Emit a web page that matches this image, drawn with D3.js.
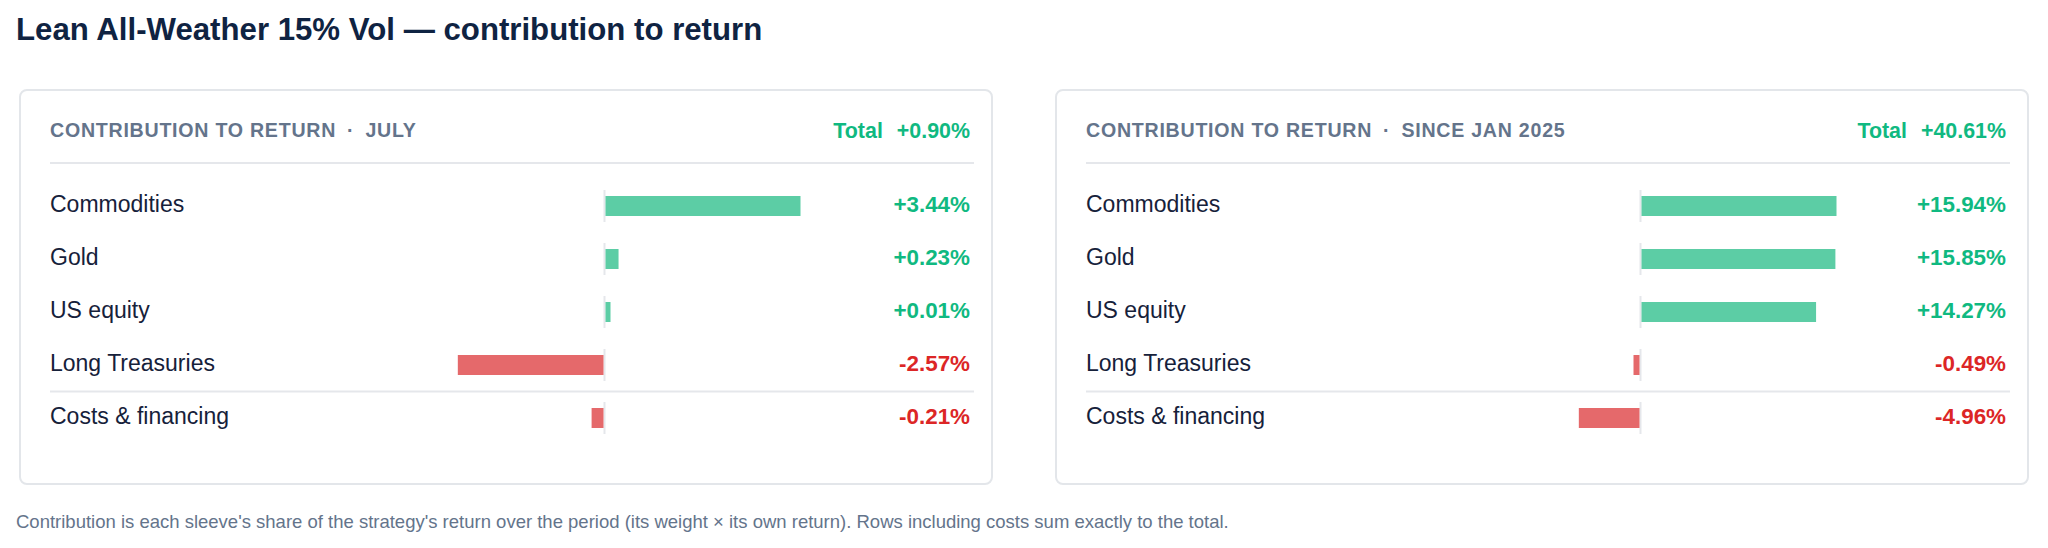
<!DOCTYPE html>
<html>
<head>
<meta charset="utf-8">
<script src="https://cdn.jsdelivr.net/npm/d3@7"></script>
<style>
  html, body { margin: 0; padding: 0; background: #fff; }
  svg { display: block; font-family: "Liberation Sans", Arial, Helvetica, sans-serif; }
</style>
</head>
<body>
<svg id="chart" width="2048" height="548"></svg>
<script>
// data
const sleeves = ["Commodities", "Gold", "US equity", "Long Treasuries", "Costs & financing"];
const julyValues = [3.44, 0.23, 0.01, -2.57, -0.21];
const sinceValues = [15.94, 15.85, 14.27, -0.49, -4.96];
const periods = ["JULY", "SINCE JAN 2025"];
const title = "Lean All-Weather 15% Vol \u2014 contribution to return";
const footnote = "Contribution is each sleeve's share of the strategy's return over the period (its weight \u00d7 its own return). Rows including costs sum exactly to the total.";

const W = 2048, H = 548;
const panelW = 972, panelH = 394, panelY = 90;
const panelXs = [20, 1056];
const padL = 30, padR = 18;
const zeroOff = 584.5;   // zero line, from panel left
const halfTrack = 195;   // px for the largest |value|
const barH = 20;

const green = "#10b981", red = "#dc2626";
const barGreen = "#5ccda5", barRed = "#e5696b";
const grid = "#e5e7eb";

const loc = d3.formatLocale({ decimal: ".", thousands: ",", grouping: [3], currency: ["$", ""], minus: "-" });
const fmt = v => loc.format("+.2f")(v) + "%";

const svg = d3.select("#chart");

svg.append("text")
  .attr("x", 16).attr("y", 40)
  .attr("font-size", 31.2).attr("font-weight", 700)
  .attr("fill", "#0f2342")
  .text(title);

const y = d3.scaleBand().domain(sleeves).range([179.5, 444.5]);

[julyValues, sinceValues].forEach((values, i) => {
  const g = svg.append("g").attr("transform", `translate(${panelXs[i]},${panelY})`);
  const total = d3.sum(values);
  const maxAbs = d3.max(values, v => Math.abs(v));
  const zero = zeroOff;
  const x = d3.scaleLinear().domain([-maxAbs, maxAbs]).range([zero - halfTrack, zero + halfTrack]);

  g.append("rect")
    .attr("x", 0).attr("y", 0)
    .attr("width", panelW).attr("height", panelH)
    .attr("rx", 7)
    .attr("fill", "#fff")
    .attr("stroke", "#e3e6ea").attr("stroke-width", 2);

  // header
  const head = g.append("text")
    .attr("x", padL).attr("y", 137 - panelY)
    .attr("font-size", 19.6).attr("font-weight", 700)
    .attr("letter-spacing", 0.75)
    .attr("fill", "#64748b");
  head.append("tspan").text("CONTRIBUTION TO RETURN");
  head.append("tspan").attr("dx", 11).text("\u00b7");
  head.append("tspan").attr("dx", 11).text(periods[i]);

  const tot = g.append("text")
    .attr("x", panelW - padR - 4).attr("y", 138 - panelY)
    .attr("text-anchor", "end")
    .attr("font-size", 21.4).attr("font-weight", 700)
    .attr("fill", total >= 0 ? green : red);
  tot.append("tspan").text("Total");
  tot.append("tspan").attr("dx", 14).text(fmt(total));

  g.append("line")
    .attr("x1", padL).attr("x2", panelW - padR)
    .attr("y1", 163 - panelY).attr("y2", 163 - panelY)
    .attr("stroke", grid).attr("stroke-width", 2);

  // separator before costs row
  const sepY = y(sleeves[sleeves.length - 1]) - panelY;
  g.append("line")
    .attr("x1", padL).attr("x2", panelW - padR)
    .attr("y1", sepY).attr("y2", sepY)
    .attr("stroke", grid).attr("stroke-width", 2);

  const rows = g.selectAll("g.row")
    .data(sleeves.map((s, k) => ({ name: s, value: values[k] })))
    .enter().append("g")
    .attr("class", "row")
    .attr("transform", d => `translate(0,${y(d.name) + y.bandwidth() / 2 - panelY})`);

  rows.append("line")
    .attr("x1", zero).attr("x2", zero)
    .attr("y1", -16).attr("y2", 16)
    .attr("stroke", grid).attr("stroke-width", 2);

  rows.append("rect")
    .attr("x", d => {
      const w = Math.max(5, Math.abs(x(d.value) - zero));
      return d.value >= 0 ? zero + 1 : zero - 1 - w;
    })
    .attr("y", -barH / 2)
    .attr("width", d => Math.max(5, Math.abs(x(d.value) - zero)))
    .attr("height", barH)
    .attr("fill", d => d.value >= 0 ? barGreen : barRed);

  rows.append("text")
    .attr("x", padL).attr("y", 6)
    .attr("font-size", 23)
    .attr("fill", "#16213a")
    .text(d => d.name);

  rows.append("text")
    .attr("x", panelW - padR - 4).attr("y", 6)
    .attr("text-anchor", "end")
    .attr("font-size", 22.4).attr("font-weight", 700)
    .attr("fill", d => d.value >= 0 ? green : red)
    .text(d => fmt(d.value));
});

svg.append("text")
  .attr("x", 16).attr("y", 528)
  .attr("font-size", 18.5)
  .attr("fill", "#64748b")
  .text(footnote);
</script>
</body>
</html>
